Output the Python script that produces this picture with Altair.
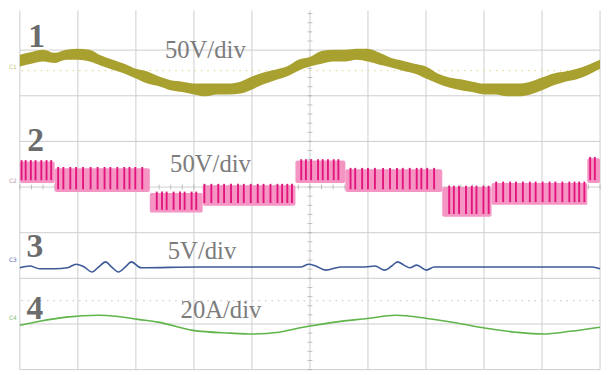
import altair as alt
import pandas as pd

# ---------------- data (screen divisions: time 0..10, amplitude -4..4) ----------------
t1 = [0.0, 0.2, 0.4, 0.6, 0.8, 1.0, 1.2, 1.4, 1.6, 1.8, 2.0, 2.2, 2.4, 2.6, 2.8, 3.0,
      3.2, 3.4, 3.6, 3.8, 4.0, 4.2, 4.4, 4.6, 4.8, 5.0, 5.2, 5.4, 5.6, 5.8, 6.0, 6.2,
      6.4, 6.6, 6.8, 7.0, 7.2, 7.4, 7.6, 7.8, 8.0, 8.2, 8.4, 8.6, 8.8, 9.0, 9.2, 9.4,
      9.6, 9.8, 10.0]
ch1_hi = [2.90, 2.96, 3.01, 2.94, 3.01, 3.03, 3.01, 2.88, 2.79, 2.70, 2.59, 2.53, 2.42,
          2.34, 2.31, 2.27, 2.27, 2.27, 2.27, 2.31, 2.42, 2.51, 2.57, 2.64, 2.79, 2.85,
          2.98, 3.01, 3.01, 3.03, 3.03, 2.94, 2.83, 2.77, 2.70, 2.64, 2.49, 2.40, 2.36,
          2.31, 2.27, 2.27, 2.27, 2.27, 2.31, 2.40, 2.49, 2.53, 2.59, 2.68, 2.79]
ch1_lo = [2.64, 2.70, 2.75, 2.72, 2.79, 2.79, 2.75, 2.66, 2.57, 2.49, 2.38, 2.27, 2.21,
          2.12, 2.08, 2.03, 1.99, 2.03, 2.03, 2.05, 2.14, 2.25, 2.34, 2.42, 2.55, 2.64,
          2.70, 2.75, 2.75, 2.79, 2.75, 2.68, 2.62, 2.55, 2.49, 2.38, 2.27, 2.18, 2.12,
          2.08, 2.03, 2.03, 1.99, 1.99, 2.03, 2.12, 2.23, 2.31, 2.36, 2.46, 2.59]

# channel 2: multilevel PWM segments
seg_t0 = [0.00, 0.60, 2.24, 3.15, 4.75, 5.61, 7.28, 8.13, 9.78]
seg_t1 = [0.60, 2.24, 3.15, 4.75, 5.61, 7.28, 8.13, 9.78, 10.0]
seg_top = [0.56, 0.41, -0.13, 0.04, 0.58, 0.39, 0.00, 0.09, 0.63]
seg_bot = [0.09, -0.11, -0.56, -0.41, 0.09, -0.11, -0.65, -0.39, 0.09]
pulses = [0.03, 0.10, 0.19, 0.27, 0.37, 0.46, 0.54,
          0.66, 0.75, 0.87, 0.97, 1.09, 1.22, 1.34, 1.46, 1.56, 1.68, 1.80, 1.89, 1.99, 2.11,
          2.36, 2.45, 2.53, 2.65, 2.76, 2.84, 2.96, 3.04,
          3.18, 3.30, 3.42, 3.52, 3.64, 3.76, 3.86, 3.98, 4.10, 4.20, 4.32, 4.44, 4.52, 4.61, 4.69,
          4.85, 4.93, 5.02, 5.14, 5.22, 5.31, 5.41, 5.49,
          5.70, 5.78, 5.90, 6.00, 6.12, 6.26, 6.38, 6.50, 6.60, 6.72, 6.84, 6.92, 7.02, 7.14,
          7.40, 7.48, 7.57, 7.69, 7.79, 7.87, 7.99, 8.08,
          8.21, 8.33, 8.45, 8.55, 8.67, 8.79, 8.89, 9.01, 9.13, 9.23, 9.35, 9.47, 9.56, 9.64, 9.73,
          9.83, 9.91]

# channel 3
t3 = [0.00, 0.17, 0.34, 0.60, 0.82, 0.97, 1.11, 1.24, 1.36, 1.48, 1.58, 1.70, 1.82, 1.92,
      2.09, 3.06, 4.08, 4.76, 4.85, 4.98, 5.10, 5.27, 5.53, 5.95, 6.12, 6.29, 6.41, 6.51,
      6.62, 6.72, 6.84, 7.01, 7.14, 8.50, 9.86, 10.0]
ch3 = [-1.77, -1.73, -1.79, -1.79, -1.77, -1.69, -1.75, -1.86, -1.75, -1.64, -1.75, -1.86,
       -1.75, -1.64, -1.77, -1.75, -1.75, -1.75, -1.75, -1.69, -1.73, -1.82, -1.75, -1.75,
       -1.73, -1.82, -1.73, -1.64, -1.71, -1.77, -1.71, -1.82, -1.75, -1.75, -1.75, -1.79]

# channel 4
t4 = [0.00, 0.34, 0.80, 1.36, 1.65, 2.04, 2.38, 2.98, 3.62, 4.00, 4.47, 4.81, 4.98, 5.43,
      5.99, 6.48, 7.02, 7.53, 8.01, 8.55, 9.02, 9.49, 10.0]
ch4 = [-3.03, -2.94, -2.85, -2.81, -2.83, -2.90, -2.96, -3.14, -3.20, -3.22, -3.18, -3.09,
       -3.05, -2.96, -2.88, -2.81, -2.88, -2.98, -3.09, -3.18, -3.22, -3.16, -3.07]

# labels
digit_text = ["1", "2", "3", "4"]
digit_t = [0.29, 0.27, 0.26, 0.26]
digit_y = [3.07, 0.80, -1.54, -2.90]
unit_text = ["50V/div", "50V/div", "5V/div", "20A/div"]
unit_t = [2.50, 2.59, 2.55, 2.77]
unit_y = [2.83, 0.32, -1.58, -2.88]
mark_text = ["C1", "C2", "C3", "C4"]
mark_y = [2.62, 0.13, -1.60, -2.88]
mark_col = ["#c9c27a", "#b89aab", "#6070b0", "#86c070"]

grid_t = [0, 1, 2, 3, 4, 5, 6, 7, 8, 9, 10]
grid_y = [-4, -3, -2, -1, 0, 1, 2, 3]
minor_t = [i / 5 for i in range(0, 51)]
minor_y = [-4 + i / 5 for i in range(0, 40)]
dotted_y = [2.55, -2.49]
dotted_col = ["#e4dc9c", "#cfcfcf"]

# ---------------- chart ----------------
xs = alt.Scale(domain=[0, 10], nice=False, zero=False)
ys = alt.Scale(domain=[-4, 3.87], nice=False, zero=False)


def X(f):
    return alt.X(f, type="quantitative", scale=xs, axis=None)


def Y(f):
    return alt.Y(f, type="quantitative", scale=ys, axis=None)


vgrid = alt.Chart(pd.DataFrame({"t": grid_t})).mark_rule(color="#cdcdcd", strokeWidth=1).encode(x=X("t"))
hgrid = alt.Chart(pd.DataFrame({"y": grid_y})).mark_rule(color="#cdcdcd", strokeWidth=1).encode(y=Y("y"))
tick_h = alt.Chart(pd.DataFrame({"t": minor_t, "y": [0] * len(minor_t)})).mark_tick(
    orient="vertical", size=5, thickness=1, color="#a8a8a8").encode(x=X("t"), y=Y("y"))
tick_v = alt.Chart(pd.DataFrame({"t": [5] * len(minor_y), "y": minor_y})).mark_tick(
    orient="horizontal", size=5, thickness=1, color="#a8a8a8").encode(x=X("t"), y=Y("y"))
dots = alt.Chart(pd.DataFrame({"y": dotted_y, "c": dotted_col})).mark_rule(
    strokeWidth=1.2, strokeDash=[1.5, 5]).encode(y=Y("y"), color=alt.Color("c:N", scale=None))

df1 = pd.DataFrame({"t": t1, "hi": ch1_hi, "lo": ch1_lo})
c1 = alt.Chart(df1).mark_area(color="#a9a12f", interpolate="monotone").encode(
    x=X("t"), y=Y("hi"), y2="lo")

segs = pd.DataFrame({"t0": seg_t0, "t1": seg_t1, "top": seg_top, "bot": seg_bot})
c2band = alt.Chart(segs).mark_rect(color="#f495c4", cornerRadius=2).encode(
    x=X("t0"), x2="t1", y=Y("top"), y2="bot")
prow = []
for p in pulses:
    for a, b, tp, bt in zip(seg_t0, seg_t1, seg_top, seg_bot):
        if a <= p < b:
            prow.append({"t": p, "top": tp + 0.03, "bot": bt + 0.06})
            break
c2pulse = alt.Chart(pd.DataFrame(prow)).mark_rule(color="#e2157c", strokeWidth=1.9).encode(
    x=X("t"), y=Y("top"), y2="bot")

c3 = alt.Chart(pd.DataFrame({"t": t3, "v": ch3})).mark_line(
    color="#3d5a98", strokeWidth=1.6, interpolate="monotone").encode(x=X("t"), y=Y("v"))
c4 = alt.Chart(pd.DataFrame({"t": t4, "v": ch4})).mark_line(
    color="#5fb54a", strokeWidth=1.6, interpolate="monotone").encode(x=X("t"), y=Y("v"))

digits = alt.Chart(pd.DataFrame({"s": digit_text, "t": digit_t, "y": digit_y})).mark_text(
    font="Liberation Serif", fontSize=34, fontWeight="bold", color="#6c6c6c",
    align="center", baseline="alphabetic").encode(x=X("t"), y=Y("y"), text="s:N")
units = alt.Chart(pd.DataFrame({"s": unit_text, "t": unit_t, "y": unit_y})).mark_text(
    font="Liberation Serif", fontSize=25, color="#7c7c7c",
    align="left", baseline="alphabetic").encode(x=X("t"), y=Y("y"), text="s:N")
marks = alt.Chart(pd.DataFrame({"s": mark_text, "t": [-0.12] * 4, "y": mark_y, "c": mark_col})).mark_text(
    font="DejaVu Sans", fontSize=6, align="center", baseline="middle").encode(
    x=X("t"), y=Y("y"), text="s:N", color=alt.Color("c:N", scale=None))

chart = alt.layer(vgrid, hgrid, dots, tick_h, tick_v, c1, c2band, c2pulse, c3, c4,
                  digits, units, marks).properties(
    width=588, height=364,
    autosize=alt.AutoSizeParams(type="none"),
    padding={"left": 12, "top": 0, "right": 4, "bottom": 3},
    background="white",
).configure_view(stroke=None)

chart.save("out.html", embed_options={"renderer": "svg", "actions": False})
